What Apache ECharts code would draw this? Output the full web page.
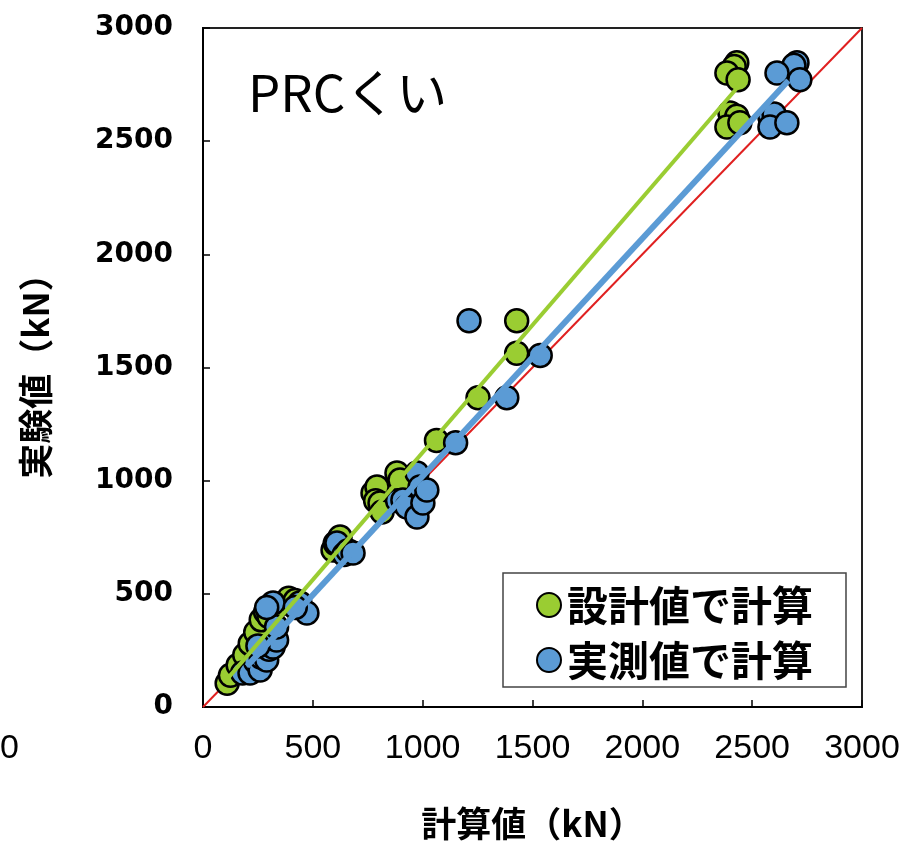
<!DOCTYPE html>
<html><head><meta charset="utf-8">
<script src="https://cdn.jsdelivr.net/npm/echarts@6/dist/echarts.min.js"></script>
<style>html,body{margin:0;padding:0;background:#fff}#c{width:903px;height:842px}</style>
</head><body><div id="c"></div>
<script>
// ---- data ----
const seriesNames = ['設計値で計算', '実測値で計算'];
const designPts = [
  [110,105],[125,140],[160,185],[190,230],[215,280],[240,330],[265,385],[285,420],[300,400],[330,440],[390,480],[420,470],
  [592,694],[602,723],[624,751],
  [774,945],[792,972],[786,911],[806,901],[815,862],[883,1034],[897,1003],
  [1063,1178],[1252,1366],[1428,1563],[1428,1707],
  [2430,2846],[2418,2830],[2385,2801],[2436,2771],[2399,2625],[2430,2610],[2385,2563],[2444,2581]
];
const measuredPts = [
  [180,150],[214,150],[240,200],[260,163],[265,220],[290,208],[300,255],[319,265],[335,296],[335,354],[250,270],[319,460],[290,440],[441,460],[473,415],[420,440],
  [610,725],[643,674],[660,690],[683,680],
  [886,911],[910,915],[928,884],[974,840],[974,1034],[988,972],[1001,901],[1019,959],
  [1150,1168],[1211,1707],[1383,1366],[1535,1553],
  [2704,2846],[2690,2835],[2613,2801],[2717,2771],[2581,2607],[2600,2620],[2581,2563],[2658,2581]
];
const designFit = [[100,112],[2430,2734]];
const measuredFit = [[200,180],[2665,2768]];
const equalLine = [[0,0],[3000,3000]];
const tickValues = [0,500,1000,1500,2000,2500,3000];
const titleText = 'PRCくい';
const xName = '計算値（kN）';
const yName = '実験値（kN）';

const green = '#9ACD32', blue = '#5B9BD5', red = '#E02020';
const chart = echarts.init(document.getElementById('c'));
chart.setOption({
  animation: false,
  backgroundColor: '#fff',
  title: { text: titleText, left: 243, top: 62,
    textStyle: { fontSize: 51, fontWeight: 'normal', color: '#000', fontFamily: 'Noto Sans CJK JP' } },
  legend: {
    data: seriesNames, orient: 'vertical', left: 503, top: 573,
    padding: [9, 33, 4, 33], itemGap: 9, itemWidth: 24, itemHeight: 24, icon: 'circle',
    borderColor: '#444', borderWidth: 1.5, backgroundColor: '#fff',
    textStyle: { fontSize: 41, lineHeight: 46, fontWeight: 'bold', color: '#000', fontFamily: 'Noto Sans CJK JP', padding: [0,0,0,1] }
  },
  grid: { left: 203, right: 41, top: 28, bottom: 135, show: true, borderColor: '#222', borderWidth: 2,
    containLabel: false, outerBoundsMode: 'none' },
  xAxis: {
    type: 'value', min: 0, max: 3000, interval: 500,
    name: xName, nameLocation: 'middle', nameGap: 99,
    nameTextStyle: { fontSize: 35, fontWeight: 'bold', color: '#000', fontFamily: 'Noto Sans CJK JP' },
    axisLine: { show: true, lineStyle: { color: '#000', width: 2 } },
    axisTick: { show: true, inside: true, length: 7, lineStyle: { color: '#000', width: 1.5 } },
    axisLabel: { margin: 25, fontSize: 34, color: '#000', fontFamily: 'Liberation Sans',
      formatter: v => tickValues.includes(v) ? String(v) : '' },
    splitLine: { show: false }
  },
  yAxis: {
    type: 'value', min: 0, max: 3000, interval: 500,
    name: yName, nameLocation: 'middle', nameGap: 150, nameRotate: 90,
    nameTextStyle: { fontSize: 35, fontWeight: 'bold', color: '#000', fontFamily: 'Noto Sans CJK JP' },
    axisLine: { show: true, lineStyle: { color: '#000', width: 2 } },
    axisTick: { show: true, inside: true, length: 7, lineStyle: { color: '#000', width: 1.5 } },
    axisLabel: { margin: 30, fontSize: 28, fontWeight: 'bold', color: '#000', fontFamily: 'DejaVu Sans',
      formatter: v => tickValues.includes(v) ? String(v) : '' },
    splitLine: { show: false }
  },
  graphic: [{ type: 'text', left: 0, top: 732, silent: true,
    style: { text: '0', fontSize: 34, fill: '#000', fontFamily: 'Liberation Sans' } }],
  series: [
    { type: 'line', data: equalLine, symbol: 'none', z: 1, silent: true,
      lineStyle: { color: red, width: 2 } },
    { name: seriesNames[0], type: 'scatter', data: designPts, symbolSize: 23, z: 2,
      itemStyle: { color: green, borderColor: '#000', borderWidth: 2.5, opacity: 1 } },
    { name: seriesNames[1], type: 'scatter', data: measuredPts, symbolSize: 23, z: 3,
      itemStyle: { color: blue, borderColor: '#000', borderWidth: 2.5, opacity: 1 } },
    { type: 'line', data: measuredFit, symbol: 'none', z: 4, silent: true,
      lineStyle: { color: blue, width: 6 } },
    { type: 'line', data: designFit, symbol: 'none', z: 5, silent: true,
      lineStyle: { color: green, width: 4 } }
  ]
});
</script></body></html>
